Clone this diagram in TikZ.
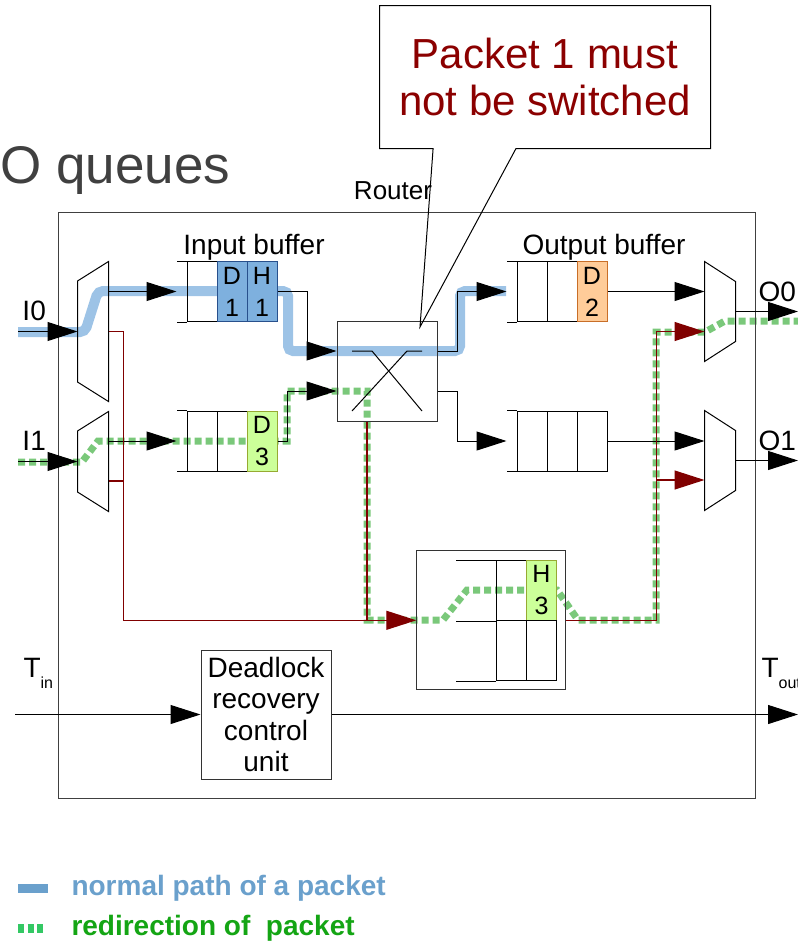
\documentclass[tikz,border=0pt]{standalone}
\usepackage{fontspec}
\setmainfont{Liberation Sans}
\usetikzlibrary{arrows.meta, calc}

\definecolor{pathblue}{RGB}{157,195,230}
\definecolor{pathgreen}{RGB}{122,200,122}
\definecolor{cellblue}{RGB}{126,176,222}
\definecolor{cellbluedraw}{RGB}{40,80,140}
\definecolor{cellgreen}{RGB}{204,255,153}
\definecolor{cellgreendraw}{RGB}{150,170,50}
\definecolor{cellorange}{RGB}{255,204,153}
\definecolor{cellorangedraw}{RGB}{200,110,40}
\definecolor{wirered}{RGB}{128,0,0}
\definecolor{notered}{RGB}{139,0,0}
\definecolor{titlegray}{RGB}{64,64,64}
\definecolor{legendblue}{RGB}{106,160,204}
\definecolor{legendgreen}{RGB}{51,200,100}
\definecolor{legendtext}{RGB}{20,165,20}

\begin{document}
\begin{tikzpicture}[
  x=1pt, y=-1pt, line width=1pt,
  >={Triangle[length=30pt, width=19pt]},
  lbl/.style={inner sep=0pt, font=\fontsize{28}{30}\selectfont},
  cell/.style={rectangle, draw=black, fill=#1, minimum width=30pt, minimum height=60pt,
               inner sep=0pt, align=center, font=\fontsize{25}{32}\selectfont},
  cell/.default=none,
  mux/.style={rectangle, minimum width=30pt, minimum height=#1, inner sep=0pt},
  wire/.style={draw=black},
  redwire/.style={draw=wirered, line width=1.2pt},
  normalpath/.style={pathblue, line width=10pt, rounded corners=5pt},
  redirpath/.style={pathgreen, line width=7pt, dash pattern=on 7pt off 4pt},
]
\useasboundingbox (0,0) rectangle (798,943);

% ================= PACKET PATHS (drawn first, behind everything) =================
\draw[normalpath] (18,332) -- (85,332) -- (98,291) -- (288,291) -- (288,351)
  -- (460,351) -- (460,291) -- (506,291);
\draw[redirpath] (18,462) -- (82,462) -- (98,441) -- (287,441) -- (287,391) -- (367,391)
  -- (367,620) -- (443,620) -- (467,590) -- (557,590) -- (578,620) -- (656,620)
  -- (656,332) -- (705,332) -- (725,321) -- (798,321);

% ================= NODES (explicit coords, px) =================
\node[anchor=base west, inner sep=0pt, font=\fontsize{53}{60}\selectfont, text=titlegray]
  (title) at (0,183) {O queues};

\node[rectangle, inner sep=0pt, minimum width=330pt, minimum height=142pt, align=center,
      text=notered, font=\fontsize{42}{47}\selectfont]
  (note) at (545,77) {Packet 1 must\\not be switched};

\node[rectangle, draw=black!75, minimum width=697pt, minimum height=586pt] (router) at (406.5,505) {};
\node[lbl, anchor=base, font=\fontsize{26}{28}\selectfont] (rtrlbl) at (393,199) {Router};

\node[lbl, anchor=base] (inlbl)  at (254,254) {Input buffer};
\node[lbl, anchor=base] (outlbl) at (604,254) {Output buffer};

\node[lbl, anchor=base west] (i0lbl) at (22,320) {I0};
\node[lbl, anchor=base west] (i1lbl) at (22,450) {I1};
\node[lbl, anchor=base west] (o0lbl) at (758,301) {O0};
\node[lbl, anchor=base west] (o1lbl) at (758,450) {O1};
\node[lbl, anchor=base west] (tinlbl)  at (23,677)  {T\raisebox{-11pt}{\fontsize{16}{16}\selectfont in}};
\node[lbl, anchor=base west] (toutlbl) at (761,677) {T\raisebox{-11pt}{\fontsize{16}{16}\selectfont out}};

\coordinate (i0)   at (18,331.5);
\coordinate (i1)   at (18,461.5);
\coordinate (o0)   at (798,311.5);
\coordinate (o1)   at (798,460.5);
\coordinate (tin)  at (15,714.5);
\coordinate (tout) at (798,714.5);
\coordinate (tip)  at (420,327);

% demux / mux
\node[mux=139pt] (dmx0) at (93,331.5) {};
\node[mux=99pt]  (dmx1) at (93,461.5) {};
\node[mux=99pt]  (mx0)  at (720,311.5) {};
\node[mux=99pt]  (mx1)  at (720,460.5) {};

% input queues
\node[cell]                                    (iq0a) at (202,291.5) {};
\node[cell=cellblue, draw=cellbluedraw]        (iq0b) at (232,291.5) {D\\1};
\node[cell=cellblue, draw=cellbluedraw]        (iq0c) at (262,291.5) {H\\1};
\node[cell]                                    (iq1a) at (202,441) {};
\node[cell]                                    (iq1b) at (232,441) {};
\node[cell=cellgreen, draw=cellgreendraw]      (iq1c) at (262,441) {D\\3};

% crossbar
\node[rectangle, draw=black!80, minimum width=100pt, minimum height=100pt] (xbar) at (387,371) {};

% output queues
\node[cell]                                    (oq0a) at (532,291.5) {};
\node[cell]                                    (oq0b) at (562,291.5) {};
\node[cell=cellorange, draw=cellorangedraw]    (oq0c) at (592,291.5) {D\\2};
\node[cell]                                    (oq1a) at (532,441) {};
\node[cell]                                    (oq1b) at (562,441) {};
\node[cell]                                    (oq1c) at (592,441) {};

% deadlock queue
\node[rectangle, draw=black!80, minimum width=149pt, minimum height=139pt] (dlq) at (491.3,620.3) {};
\node[cell]                                    (dq0a) at (511.5,590.5) {};
\node[cell=cellgreen, draw=cellgreendraw]      (dq0b) at (541.5,590.5) {H\\3};
\node[cell]                                    (dq1a) at (511.5,650.5) {};
\node[cell]                                    (dq1b) at (541.5,650.5) {};

\node[rectangle, draw=black!80, minimum width=130pt, minimum height=129pt, align=center,
      inner sep=0pt, font=\fontsize{28}{31.5}\selectfont]
  (drcu) at (266,714.5) {Deadlock\\recovery\\control\\unit};

% ================= OUTLINES =================
\draw[wire] ($(note.south west)+(53.6,0)$) -- (tip) -- ($(note.south west)+(136.5,0)$)
  -- (note.south east) -- (note.north east) -- (note.north west) -- (note.south west) -- cycle;

\draw[wire] (dmx0.north east) -- (dmx0.south east) -- ($(dmx0.south west)+(0,-19.5)$) -- ($(dmx0.north west)+(0,19.5)$) -- cycle;
\draw[wire] (dmx1.north east) -- (dmx1.south east) -- ($(dmx1.south west)+(0,-19.5)$) -- ($(dmx1.north west)+(0,19.5)$) -- cycle;
\draw[wire] (mx0.north west) -- (mx0.south west) -- ($(mx0.south east)+(0,-20)$) -- ($(mx0.north east)+(0,20)$) -- cycle;
\draw[wire] (mx1.north west) -- (mx1.south west) -- ($(mx1.south east)+(0,-20)$) -- ($(mx1.north east)+(0,20)$) -- cycle;

\draw (iq0a.north west) -- ++(-10,0) (iq0a.south west) -- ++(-10,0);
\draw (iq1a.north west) -- ++(-10,0) (iq1a.south west) -- ++(-10,0);
\draw (oq0a.north west) -- ++(-10,0) (oq0a.south west) -- ++(-10,0);
\draw (oq1a.north west) -- ++(-10,0) (oq1a.south west) -- ++(-10,0);
\draw (dq0a.north west) -- ++(-40,0) (dq0a.south west) -- ++(-40,0) (dq1a.south west) -- ++(-40,0);

\draw[wire] ($(xbar)+(-35,-20)$) -- ++(20,0) -- ++(50,60);
\draw[wire] ($(xbar)+(35,-20)$) -- ++(-15,0) -- ++(-55,60);

% ================= EDGES =================
\draw[wire, ->] (i0) -- (dmx0.west);
\draw[wire, ->] (i1) -- (dmx1.west);
\draw[wire, ->, shorten >=10pt] (dmx0.east |- iq0a.west) -- (iq0a.west);
\draw[wire, ->, shorten >=10pt] (dmx1.east |- iq1a.west) -- (iq1a.west);

\draw[wire, ->] (iq0c.east) -- ++(30,0) |- ($(xbar.west)+(0,-20)$);
\draw[wire, ->] (iq1c.east) -- ++(10,0) |- ($(xbar.west)+(0,20)$);
\draw[wire, ->, shorten >=10pt] ($(xbar.east)+(0,-20)$) -- ++(20,0) |- (oq0a.west);
\draw[wire, ->, shorten >=10pt] ($(xbar.east)+(0,20)$) -- ++(20,0) |- (oq1a.west);

\draw[wire, ->] (oq0c.east) -- ($(mx0.west)+(0,-20)$);
\draw[wire, ->] (oq1c.east) -- ($(mx1.west)+(0,-19.5)$);
\draw[wire, ->] (mx0.east) -- (o0);
\draw[wire, ->] (mx1.east) -- (o1);

\draw[redwire, ->] (dmx0.east) -- ++(15,0) |- (dlq.west);
\draw[redwire] ($(dmx1.east)+(0,19.5)$) -- ++(15,0);
\coordinate (xsouth) at ($(xbar.south)+(-20,0)$);
\draw[redwire] (xsouth) -- (xsouth |- dlq.west);
\draw[redwire, ->] (dlq.east) -- ++(90,0) |- ($(mx0.west)+(0,20)$);
\draw[redwire, ->] ($(dlq.east)+(90,0)$) |- ($(mx1.west)+(0,19.5)$);

\draw[wire, ->] (tin) -- (drcu.west);
\draw[wire, ->] (drcu.east) -- (tout);

% ================= LEGEND =================
\draw[legendblue, line width=9pt] (18,888.5) -- (48,888.5);
\node[anchor=base west, inner sep=0pt, font=\bfseries\fontsize{28}{30}\selectfont, text=legendblue]
  (lgnormal) at (71,895) {normal path of a packet};
\draw[legendgreen, line width=9pt, dash pattern=on 6pt off 3.5pt] (18,928.5) -- (43,928.5);
\node[anchor=base west, inner sep=0pt, font=\bfseries\fontsize{28}{30}\selectfont, text=legendtext]
  (lgredir) at (71,935) {redirection of\ \ packet};

\end{tikzpicture}
\end{document}
